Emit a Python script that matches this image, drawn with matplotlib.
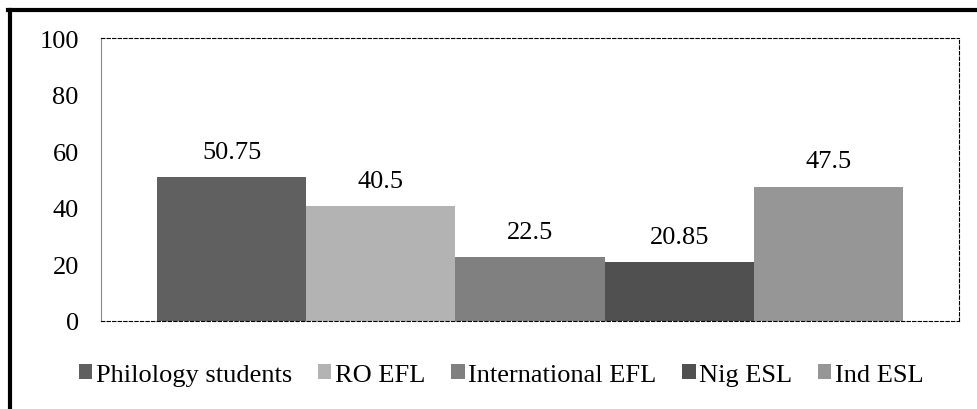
import numpy as np
import matplotlib.pyplot as plt
from matplotlib.lines import Line2D
from matplotlib.patches import Patch
from matplotlib.font_manager import FontProperties, findfont

# Times-like serif face used throughout the chart
serif_path = findfont(FontProperties(family='Liberation Serif'))
fp = FontProperties(fname=serif_path, size=19)

groups = ['Philology students', 'RO EFL', 'International EFL', 'Nig ESL', 'Ind ESL']
values = [50.75, 40.5, 22.5, 20.85, 47.5]
colors = ['#606060', '#b3b3b3', '#808080', '#505050', '#969696']
yticks = [0, 20, 40, 60, 80, 100]

fig = plt.figure(figsize=(9.77, 4.10), dpi=100)
ax = fig.add_axes([101/977, 1 - 322/410, 858/977, 283/410])

x = np.arange(len(values))
ax.bar(x, values, width=1.0, color=colors, edgecolor='none', zorder=2)
for xi, v in zip(x, values):
    ax.text(xi, v + 5, f'{v:g}', ha='center', va='bottom', fontproperties=fp)

pad = 56 / 149
ax.set_xlim(-0.5 - pad, len(values) - 0.5 + pad)
ax.set_ylim(0, 100)
ax.set_yticks(yticks)
ax.set_yticklabels([str(t) for t in yticks], fontproperties=fp)
ax.set_xticks([])
ax.tick_params(axis='y', length=0, pad=16)

for s in ['top', 'right', 'bottom']:
    ax.spines[s].set_linestyle((0, (3, 2)))
    ax.spines[s].set_color('black')
    ax.spines[s].set_linewidth(0.8)
ax.spines['left'].set_color('#888888')
ax.spines['left'].set_linewidth(0.8)

handles = [Patch(facecolor=c, edgecolor='none') for c in colors]
fig.legend(handles, groups, loc='center', bbox_to_anchor=(0.513, 1 - 376/410),
           ncol=5, frameon=False, prop=fp,
           handlelength=0.5, handleheight=0.5, handletextpad=0.12, columnspacing=1.0)

# outer chart border (left and top only are visible)
fig.add_artist(Line2D([9.5/977, 9.5/977], [0, 1 - 11/410], color='black', lw=3, transform=fig.transFigure))
fig.add_artist(Line2D([8/977, 1], [1 - 11/410, 1 - 11/410], color='black', lw=3, transform=fig.transFigure))

fig.savefig('out.png', dpi=100)
